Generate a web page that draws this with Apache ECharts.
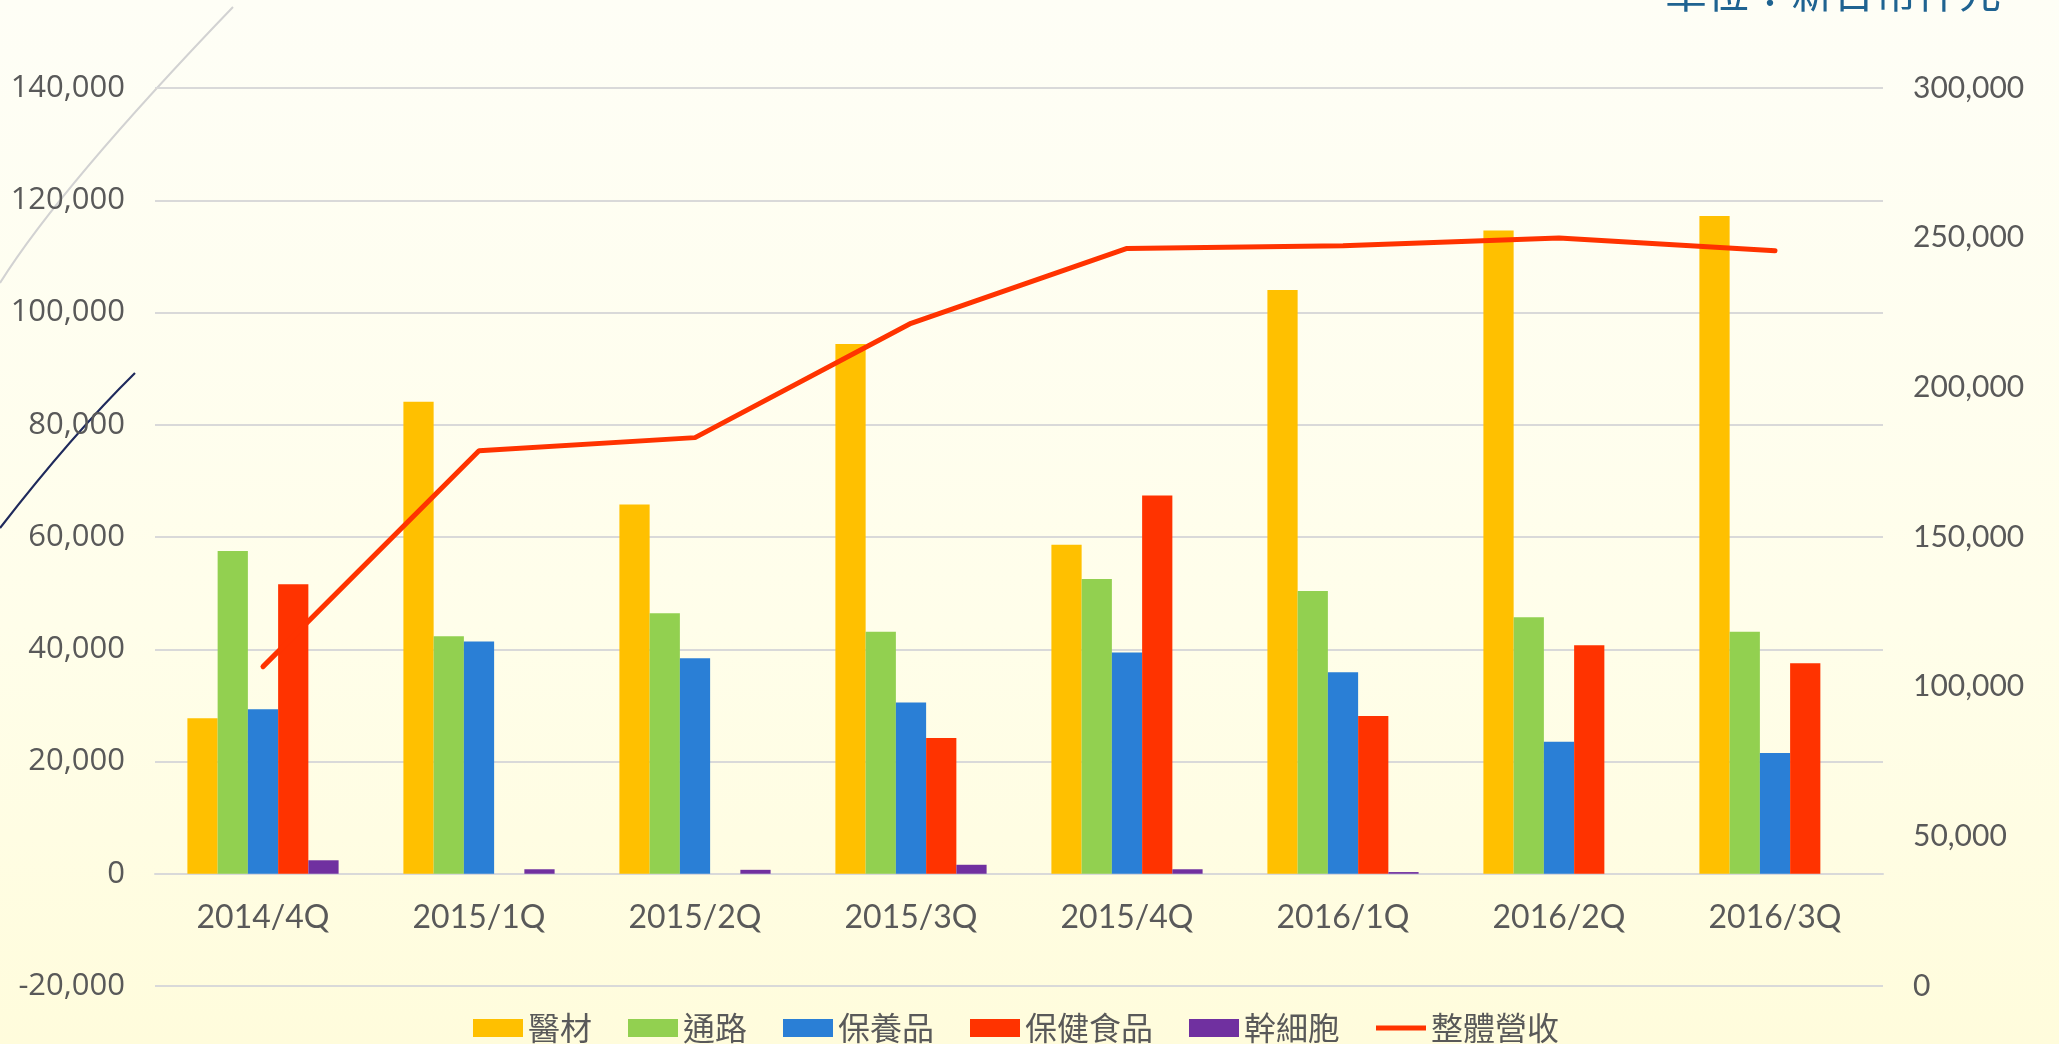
<!DOCTYPE html>
<html>
<head>
<meta charset="utf-8">
<script src="https://cdn.jsdelivr.net/npm/echarts@6/dist/echarts.min.js"></script>
<style>
  html, body { margin: 0; padding: 0; }
  #chartContainer {
    width: 2059px;
    height: 1044px;
    background: linear-gradient(to bottom, #FEFEF6 0%, #FFFEEA 60%, #FFFCDC 100%);
  }
</style>
</head>
<body>
<div id="chartContainer"></div>
<script>
// quarters
const quarters = ['2014/4Q', '2015/1Q', '2015/2Q', '2015/3Q', '2015/4Q', '2016/1Q', '2016/2Q', '2016/3Q'];

// left axis series (仟元)
const yiCai = [27700, 84100, 65800, 94400, 58600, 104000, 114600, 117200];
const tongLu = [57500, 42300, 46400, 43100, 52500, 50400, 45700, 43100];
const baoYang = [29300, 41400, 38400, 30500, 39400, 35900, 23500, 21500];
const baoJian = [51600, 0, 0, 24200, 67400, 28100, 40700, 37500];
const ganXiBao = [2400, 800, 700, 1600, 800, 300, 0, 0];

// right axis series
const zongYingShou = [106700, 178800, 183200, 221400, 246400, 247300, 249900, 245600];

const leftTicks = { min: -20000, max: 140000, interval: 20000 };
const rightTicks = { min: 0, max: 300000, interval: 50000 };

const textGray = '#595959';
const gridGray = '#D9D9D9';

const gridBox = { left: 155, right: 176, top: 88, bottom: 58 };
const plotHeight = 1044 - gridBox.top - gridBox.bottom;
// category axis sits on the zero line of the left axis
const zeroOffset = -plotHeight * (0 - leftTicks.min) / (leftTicks.max - leftTicks.min);

let chartDom = document.getElementById('chartContainer');
let myChart = echarts.init(chartDom, null, { renderer: 'canvas' });

function fmt(v) {
    return Number(v).toLocaleString('en-US');
}

function barSeries(name, data, color) {
    return {
        name: name,
        type: 'bar',
        data: data,
        barGap: '0%',
        barCategoryGap: '30%',
        itemStyle: { color: color }
    };
}

let option = {
    backgroundColor: 'transparent',
    animation: false,
    graphic: [
        {
            type: 'bezierCurve',
            z: 0,
            shape: { x1: 0, y1: 283, x2: 233, y2: 7, cpx1: 60, cpy1: 187 },
            style: { stroke: '#D2D2D2', lineWidth: 2, fill: null }
        },
        {
            type: 'bezierCurve',
            z: 0,
            shape: { x1: 0, y1: 528, x2: 135, y2: 373, cpx1: 73, cpy1: 434 },
            style: { stroke: '#1F2A5C', lineWidth: 2.2, fill: null }
        },
        {
            type: 'text',
            x: 1665,
            y: -29,
            style: {
                text: '單位：新台幣仟元',
                font: '42px "Noto Sans CJK TC"',
                fill: '#1F6391'
            }
        }
    ],
    legend: {
        left: 473,
        top: 1012,
        padding: 0,
        itemWidth: 50,
        itemHeight: 18,
        itemGap: 36,
        textStyle: {
            fontFamily: '"Noto Sans CJK TC"',
            fontSize: 32,
            color: textGray
        },
        data: [
            { name: '醫材', icon: 'rect' },
            { name: '通路', icon: 'rect' },
            { name: '保養品', icon: 'rect' },
            { name: '保健食品', icon: 'rect' },
            { name: '幹細胞', icon: 'rect' },
            { name: '整體營收', icon: 'path://M0 0H100V10H0Z' }
        ]
    },
    grid: {
        left: gridBox.left,
        right: gridBox.right,
        top: gridBox.top,
        bottom: gridBox.bottom,
        containLabel: false
    },
    xAxis: {
        type: 'category',
        data: quarters,
        position: 'bottom',
        offset: zeroOffset,
        axisLine: {
            show: true,
            onZero: false,
            lineStyle: { color: gridGray, width: 2 }
        },
        axisTick: { show: false },
        axisLabel: {
            margin: 28,
            fontFamily: 'Lato',
            fontSize: 32,
            color: textGray
        }
    },
    yAxis: [
        {
            type: 'value',
            min: leftTicks.min,
            max: leftTicks.max,
            interval: leftTicks.interval,
            axisLine: { show: false },
            axisTick: { show: false },
            splitLine: { lineStyle: { color: gridGray, width: 2 } },
            axisLabel: {
                margin: 30,
                fontFamily: '"Open Sans"',
                fontSize: 31,
                color: textGray,
                formatter: fmt
            }
        },
        {
            type: 'value',
            min: rightTicks.min,
            max: rightTicks.max,
            interval: rightTicks.interval,
            axisLine: { show: false },
            axisTick: { show: false },
            splitLine: { show: false },
            axisLabel: {
                margin: 30,
                fontFamily: 'Lato',
                fontSize: 30,
                color: textGray,
                formatter: fmt
            }
        }
    ],
    series: [
        barSeries('醫材', yiCai, '#FFC000'),
        barSeries('通路', tongLu, '#92D050'),
        barSeries('保養品', baoYang, '#2A7FD6'),
        barSeries('保健食品', baoJian, '#FF3300'),
        barSeries('幹細胞', ganXiBao, '#7030A0'),
        {
            name: '整體營收',
            type: 'line',
            yAxisIndex: 1,
            data: zongYingShou,
            symbol: 'none',
            z: 5,
            lineStyle: { color: '#FF3300', width: 5, cap: 'round' },
            itemStyle: { color: '#FF3300' }
        }
    ]
};

myChart.setOption(option);
</script>
</body>
</html>
